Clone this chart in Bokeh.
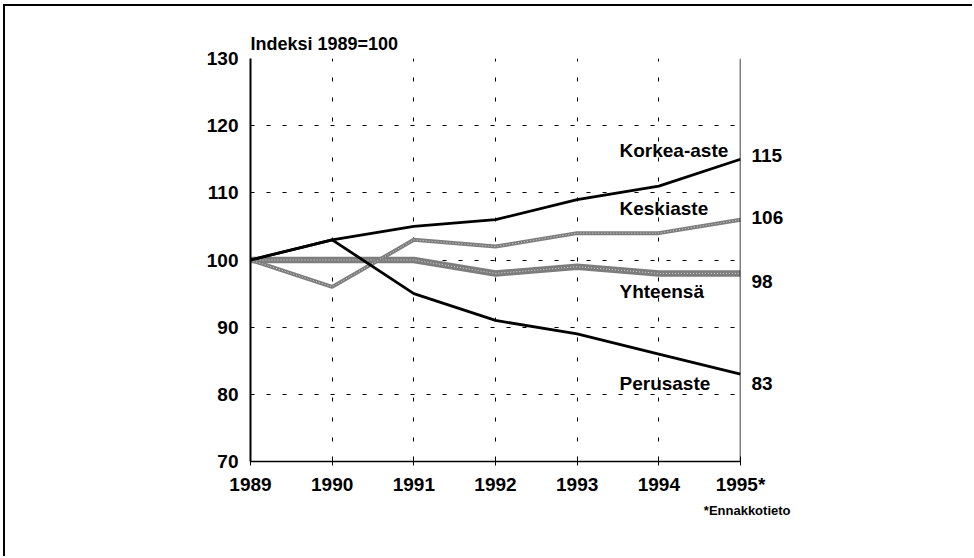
from bokeh.plotting import figure
from bokeh.models import LabelSet, ColumnDataSource, Span, FixedTicker, LinearAxis, Title
from bokeh.core.properties import value
from bokeh.embed import file_html
from bokeh.resources import INLINE

years = [1989, 1990, 1991, 1992, 1993, 1994, 1995]
year_labels = ["1989", "1990", "1991", "1992", "1993", "1994", "1995*"]
korkea = [100, 103, 105, 106, 109, 111, 115]
keski = [100, 96, 103, 102, 104, 104, 106]
yhteensa = [100, 100, 100, 98, 99, 98, 98]
perus = [100, 103, 95, 91, 89, 86, 83]
y_ticks = [70, 80, 90, 100, 110, 120, 130]

series_names = ["Korkea-aste", "Keskiaste", "Yhteensä", "Perusaste"]
end_values = [korkea[-1], keski[-1], yhteensa[-1], perus[-1]]
name_y = [116.3, 107.7, 95.3, 81.6]
end_label_shift = [0.5, 0.3, -1.2, -1.4]   # label placement, in data units

FONT = "Liberation Sans"

p = figure(width=969, height=552, x_range=(1989, 1995), y_range=(70, 130),
           output_backend="svg", toolbar_location=None,
           min_border_left=245, min_border_right=234,
           min_border_top=52, min_border_bottom=97)
# outer page frame (left and top edges only) drawn as a shadow
p.styles = {"margin-left": "5px", "margin-top": "6px",
            "box-shadow": "-2px -2px 0px 0px black"}
p.outline_line_color = None
p.background_fill_color = "white"
p.border_fill_color = "white"

# title
p.title.text = "Indeksi 1989=100"
p.title.align = "left"
p.title.text_font = FONT
p.title.text_font_size = "18px"
p.title.text_font_style = "bold"
p.title.text_color = "black"
p.title.standoff = 9

# grids
p.xaxis.ticker = FixedTicker(ticks=years)
p.yaxis.ticker = FixedTicker(ticks=y_ticks)
p.xgrid.grid_line_color = "black"
p.xgrid.grid_line_dash = "4 16"
p.xgrid.grid_line_width = 1
p.ygrid.grid_line_color = "black"
p.ygrid.grid_line_dash = "4 12"
p.ygrid.grid_line_width = 1

# axes
p.xaxis.major_label_overrides = {y: l for y, l in zip(years, year_labels)}
for ax in (p.xaxis[0], p.yaxis[0]):
    ax.major_label_text_font = FONT
    ax.major_label_text_font_size = "19px"
    ax.major_label_text_font_style = "bold"
    ax.major_label_text_color = "black"
    ax.axis_line_color = "black"
    ax.minor_tick_line_color = None
    ax.major_tick_line_color = "black"
p.yaxis.axis_line_width = 2
p.yaxis.major_tick_in = 0
p.yaxis.major_tick_out = 0
p.yaxis.major_label_standoff = 12
p.xaxis.axis_line_width = 1.5
p.xaxis.major_tick_in = 5
p.xaxis.major_tick_out = 4
p.xaxis.major_label_standoff = 8

# end values as a right-hand axis
end_pos = [v + s for v, s in zip(end_values, end_label_shift)]
right_ax = LinearAxis(ticker=FixedTicker(ticks=end_pos),
                      major_label_overrides={pos: str(v) for pos, v in zip(end_pos, end_values)},
                      axis_line_color=None, major_tick_line_color=None,
                      minor_tick_line_color=None, major_tick_in=0, major_tick_out=0,
                      major_label_standoff=11, major_label_text_font=FONT,
                      major_label_text_font_style="bold",
                      major_label_text_font_size="19px", major_label_text_color="black")
p.add_layout(right_ax, "right")

# footnote
p.add_layout(Title(text="*Ennakkotieto", align="right", offset=-50,
                   text_font=FONT, text_font_size="13px", text_font_style="bold",
                   text_color="black", standoff=7), "below")

p.add_layout(Span(location=1995, dimension="height", line_color="black", line_width=1.5))

# gray series with hatch-like texture
for vals, w in ((yhteensa, 6.5), (keski, 4)):
    p.line(years, vals, line_color="#7d7d7d", line_width=w)
    p.line(years, vals, line_color="white", line_width=1, line_dash="1 2", line_alpha=0.7)

# black series
p.line(years, perus, line_color="black", line_width=2.8)
p.line(years, korkea, line_color="black", line_width=2.8)

# series names
names_src = ColumnDataSource(dict(x=[1995] * 4, y=name_y, t=series_names))
p.add_layout(LabelSet(x="x", y="y", text="t", source=names_src, x_offset=-121,
                      text_align="left", text_baseline="middle",
                      text_font=value(FONT), text_font_size=value("19px"),
                      text_font_style=value("bold"), text_color="black"))

open("out.html", "w").write(file_html(p, INLINE))
